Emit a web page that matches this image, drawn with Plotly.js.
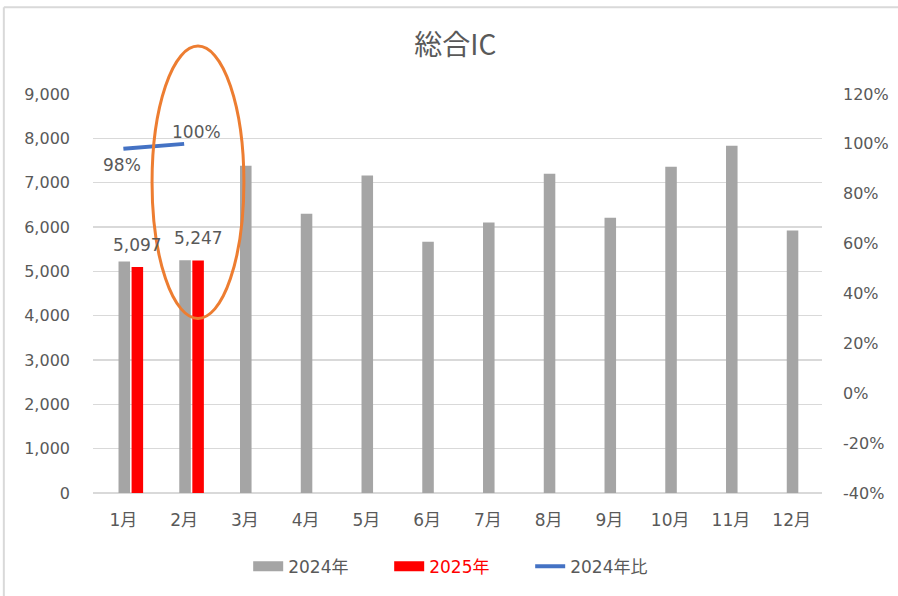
<!DOCTYPE html>
<html>
<head>
<meta charset="utf-8">
<script src="https://cdn.plot.ly/plotly-3.0.1.min.js"></script>
<style>
html,body{margin:0;padding:0;background:#fff;}
#chart{width:898px;height:596px;}
</style>
</head>
<body>
<div id="chart"></div>
<script>
// ---- data ----
const months = ['1月','2月','3月','4月','5月','6月','7月','8月','9月','10月','11月','12月'];
const sales2024 = [5220, 5250, 7380, 6300, 7160, 5670, 6100, 7200, 6210, 7360, 7830, 5920];
const months2025 = ['1月','2月'];
const sales2025 = [5097, 5247];
const ratio = [0.98, 1.00];
const seriesNames = ['2024年', '2025年', '2024年比'];
const ratioTickVals = [-0.4, -0.2, 0, 0.2, 0.4, 0.6, 0.8, 1.0, 1.2];
const ratioTickText = ['-40%', '-20%', '0%', '20%', '40%', '60%', '80%', '100%', '120%'];

// ---- styling ----
const FONT = 'DejaVu Sans, Noto Sans CJK JP, sans-serif';
const TFONT = 'Noto Sans CJK JP, DejaVu Sans, sans-serif';
const TXT = '#595959';
const GRID = '#d9d9d9';
const C2024 = '#a5a5a5', C2025 = '#ff0000', CRATIO = '#4472c4';

const traces = [
  {
    type: 'bar', x: months, y: sales2024, name: seriesNames[0], showlegend: false,
    marker: {color: C2024}, width: 0.19, offset: -0.08, hoverinfo: 'x+y'
  },
  {
    type: 'bar', x: months2025, y: sales2025, name: seriesNames[1], showlegend: false,
    marker: {color: C2025}, width: 0.19, offset: 0.135, hoverinfo: 'x+y'
  },
  {
    type: 'scatter', mode: 'lines', x: months2025, y: ratio, name: seriesNames[2],
    yaxis: 'y2', line: {color: CRATIO, width: 4}, showlegend: false, hoverinfo: 'x+y'
  },
  // legend entries (wide swatches like the original)
  {type: 'scatter', mode: 'lines', x: [null], y: [null], name: seriesNames[0],
   line: {color: C2024, width: 10}, legendrank: 1},
  {type: 'scatter', mode: 'lines', x: [null], y: [null],
   name: '<span style="color:#ff0000">' + seriesNames[1] + '</span>',
   line: {color: C2025, width: 10}, legendrank: 2},
  {type: 'scatter', mode: 'lines', x: [null], y: [null], name: seriesNames[2],
   line: {color: CRATIO, width: 4}, legendrank: 3}
];

const annotations = [];
sales2025.forEach((v, i) => {
  annotations.push({
    x: months2025[i], y: v, xref: 'x', yref: 'y',
    text: v.toLocaleString('en-US'), showarrow: false,
    xshift: 14, yshift: 22, yanchor: 'middle',
    font: {family: FONT, size: 17, color: TXT}
  });
});
const ratioShift = [[-1, -16], [12, 12]];
ratio.forEach((v, i) => {
  annotations.push({
    x: months2025[i], y: v, xref: 'x', yref: 'y2',
    text: Math.round(v * 100) + '%', showarrow: false,
    xshift: ratioShift[i][0], yshift: ratioShift[i][1], yanchor: 'middle',
    font: {family: FONT, size: 17, color: TXT}
  });
});

const layout = {
  width: 898, height: 596,
  paper_bgcolor: '#ffffff', plot_bgcolor: '#ffffff',
  margin: {l: 93, r: 76, t: 94, b: 102},
  font: {family: FONT, color: TXT, size: 16},
  title: {
    text: '総合IC', x: 0.507, xanchor: 'center', y: 0.925, yanchor: 'middle',
    font: {family: TFONT, size: 28, color: TXT}
  },
  barmode: 'overlay',
  showlegend: true,
  legend: {
    orientation: 'h', x: 0.503, xanchor: 'center', y: -0.182, yanchor: 'middle',
    font: {family: FONT, size: 17, color: TXT}, itemwidth: 30,
    entrywidth: 96, entrywidthmode: 'pixels',
    traceorder: 'normal'
  },
  xaxis: {
    type: 'category', categoryorder: 'array', categoryarray: months,
    showgrid: false, showline: false, zeroline: false, ticks: '',
    ticklabelstandoff: 15,
    tickfont: {family: FONT, size: 17, color: TXT}
  },
  yaxis: {
    range: [0, 9000], dtick: 1000, tickformat: ',d',
    showgrid: true, gridcolor: GRID, gridwidth: 1.5,
    zeroline: true, zerolinecolor: GRID, zerolinewidth: 2,
    showline: false, ticks: '', ticklabelstandoff: 22,
    tickfont: {family: FONT, size: 16, color: TXT}
  },
  yaxis2: {
    overlaying: 'y', side: 'right',
    range: [-0.4, 1.2], tickmode: 'array', tickvals: ratioTickVals, ticktext: ratioTickText,
    showgrid: false, zeroline: false, showline: false, ticks: '',
    ticklabelstandoff: 20,
    tickfont: {family: FONT, size: 16, color: TXT}
  },
  annotations: annotations,
  shapes: [
    {type: 'circle', xref: 'paper', yref: 'paper',
     x0: 0.081, x1: 0.207, y0: 0.4375, y1: 1.12,
     line: {color: '#ed7d31', width: 3}, fillcolor: 'rgba(0,0,0,0)', layer: 'above'},
    {type: 'line', xref: 'paper', yref: 'paper',
     x0: -0.1223, x1: 1.12, y0: 1.2175, y1: 1.2175,
     line: {color: '#d9d9d9', width: 2}},
    {type: 'line', xref: 'paper', yref: 'paper',
     x0: -0.1223, x1: -0.1223, y0: 1.2175, y1: -0.26,
     line: {color: '#d9d9d9', width: 2}}
  ]
};

Plotly.newPlot('chart', traces, layout, {displayModeBar: false, staticPlot: true});
</script>
</body>
</html>
